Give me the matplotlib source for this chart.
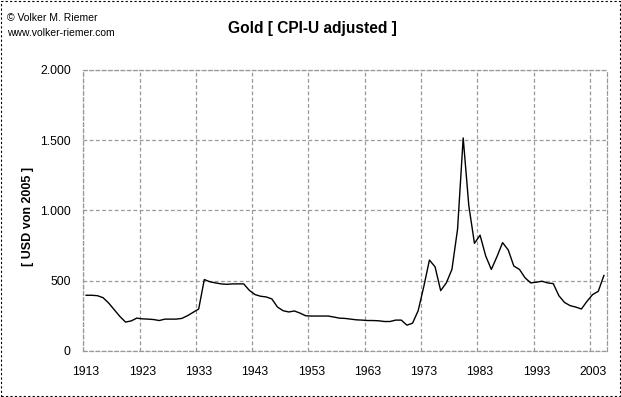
import matplotlib
matplotlib.use("Agg")
import matplotlib.pyplot as plt
from matplotlib.patches import Rectangle
from matplotlib.ticker import FuncFormatter, FixedLocator

plt.rcParams['font.family'] = ['Liberation Sans', 'DejaVu Sans']

years = list(range(1913, 2006))
values = [
    395, 395, 392, 378, 340, 292, 244, 204, 212, 232,   # 1913-1922
    227, 225, 222, 215, 225, 225, 225, 230, 249, 273,   # 1923-1932
    297, 507, 491, 483, 476, 473, 476, 476, 476, 430,   # 1933-1942
    400, 388, 383, 369, 311, 285, 276, 283, 268, 249,   # 1943-1952
    247, 247, 247, 247, 240, 232, 230, 225, 220, 218,   # 1953-1962
    215, 215, 213, 208, 208, 218, 218, 182, 196, 285,   # 1963-1972
    457, 646, 598, 428, 483, 579, 866, 1516, 1033, 765, # 1973-1982
    823, 675, 579, 670, 770, 718, 603, 579, 519, 483,   # 1983-1992
    488, 495, 483, 478, 392, 344, 321, 311, 297, 352,   # 1993-2002
    400, 423, 536,                                      # 2003-2005
]
label_years = [1913, 1923, 1933, 1943, 1953, 1963, 1973, 1983, 1993, 2003]
y_ticks = [0, 500, 1000, 1500, 2000]

fig = plt.figure(figsize=(6.21, 3.97), dpi=100)
ax = fig.add_axes([83.3 / 621, 1 - 350.7 / 397, (606.7 - 83.3) / 621, (350.7 - 70) / 397])

ax.plot(years, values, color='black', linewidth=1.0)

ax.set_xlim(years[0] - 0.5, years[-1] + 0.5)
ax.set_ylim(0, 2000)

ax.set_xticks(label_years)
ax.xaxis.set_minor_locator(FixedLocator([y - 0.5 for y in label_years]))
ax.set_yticks(y_ticks)
ax.yaxis.set_major_formatter(FuncFormatter(lambda v, p: f"{int(v):,}".replace(",", ".")))

ax.tick_params(axis='both', which='both', length=0, labelsize=8.8, colors='black')
ax.tick_params(axis='x', pad=11)
ax.tick_params(axis='y', pad=9)

gridkw = dict(color='#999999', linestyle=(0, (3, 2)), linewidth=0.9)
ax.grid(True, axis='y', which='major', **gridkw)
ax.grid(True, axis='x', which='minor', **gridkw)
ax.grid(False, axis='x', which='major')
for s in ax.spines.values():
    s.set_color('#999999')
    s.set_linestyle((0, (3, 2)))
    s.set_linewidth(0.9)

ax.set_ylabel('[ USD von 2005 ]', fontsize=9, fontweight='bold')
ax.yaxis.set_label_coords(-0.095, 0.48)

fig.text(312 / 621, 1 - 28 / 397, 'Gold [ CPI-U adjusted ]', ha='center', va='center',
         fontsize=11.2, fontweight='bold')
fig.text(7 / 621, 1 - 18 / 397, '© Volker M. Riemer', ha='left', va='center', fontsize=7.5)
fig.text(7 / 621, 1 - 33 / 397, 'www.volker-riemer.com', ha='left', va='center', fontsize=7.5)

fig.patches.append(Rectangle((1 / 621, 1 / 397), 619 / 621, 395 / 397, transform=fig.transFigure,
                             fill=False, edgecolor='black', linestyle=(0, (2, 2)), linewidth=0.8))

fig.savefig('out.png', dpi=100)
